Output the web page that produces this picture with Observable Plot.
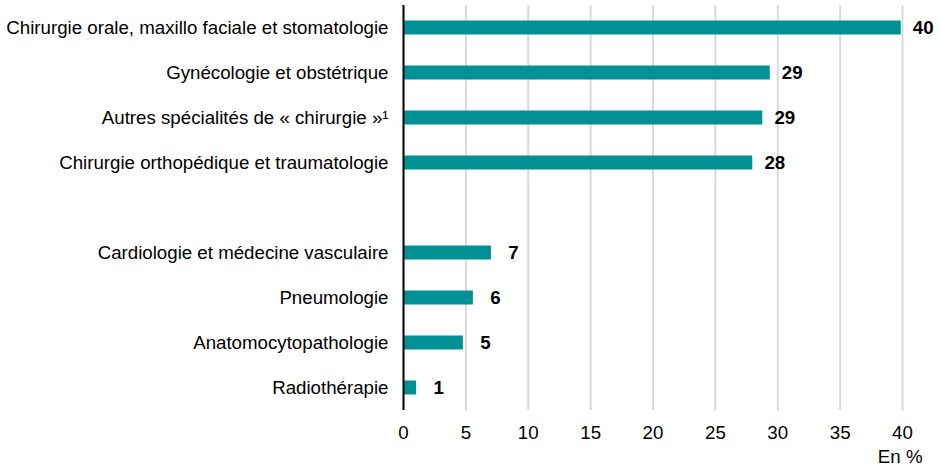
<!DOCTYPE html>
<html>
<head>
<meta charset="utf-8">
<script src="https://cdn.jsdelivr.net/npm/d3@7"></script>
<script src="https://cdn.jsdelivr.net/npm/@observablehq/plot@0.6"></script>
<style>
  html, body { margin: 0; padding: 0; background: #fff; }
  svg { display: block; }
</style>
</head>
<body>
<div id="chart"></div>
<script>
const categories = [
  "Chirurgie orale, maxillo faciale et stomatologie",
  "Gynécologie et obstétrique",
  "Autres spécialités de « chirurgie »¹",
  "Chirurgie orthopédique et traumatologie",
  " ",
  "Cardiologie et médecine vasculaire",
  "Pneumologie",
  "Anatomocytopathologie",
  "Radiothérapie"
];
const values = [39.9, 29.4, 28.8, 28.0, null, 7.05, 5.6, 4.8, 1.05];
const xTicks = [0, 5, 10, 15, 20, 25, 30, 35, 40];
const unitLabel = "En %";

const data = categories.map((c, i) => ({cat: c, v: values[i]})).filter(d => d.v != null);
const FS = 18.7;

const chart = Plot.plot({
  width: 940,
  height: 466,
  marginLeft: 403,
  marginRight: 38,
  marginTop: 5,
  marginBottom: 56,
  style: {fontFamily: "'Liberation Sans', Arial, sans-serif", fontSize: FS + "px", color: "#000", background: "#fff"},
  x: {domain: [0, 40], ticks: xTicks},
  y: {domain: categories, padding: 0},
  marks: [
    Plot.gridX(xTicks.filter(t => t > 0), {stroke: "#d9d9d9", strokeWidth: 2, strokeOpacity: 1}),
    Plot.barX(data, {x: "v", y: "cat", fill: "#009196", insetTop: 15.5, insetBottom: 15.5}),
    Plot.ruleX([0], {stroke: "#000", strokeWidth: 2}),
    Plot.text(data, {x: "v", y: "cat", text: d => String(Math.round(d.v)), dx: 22, textAnchor: "middle", fontWeight: "bold", fontSize: FS, fill: "#000"}),
    Plot.axisX({ticks: xTicks, tickSize: 0, tickPadding: 15, label: null, fontSize: FS, fill: "#000"}),
    Plot.axisY({tickSize: 0, tickPadding: 15, label: null, fontSize: FS, fill: "#000"}),
    Plot.text([unitLabel], {frameAnchor: "bottom-right", lineAnchor: "bottom", text: d => d, dx: 20, dy: 52, textAnchor: "end", fontSize: FS, fill: "#000"})
  ]
});
document.getElementById("chart").appendChild(chart);
</script>
</body>
</html>
